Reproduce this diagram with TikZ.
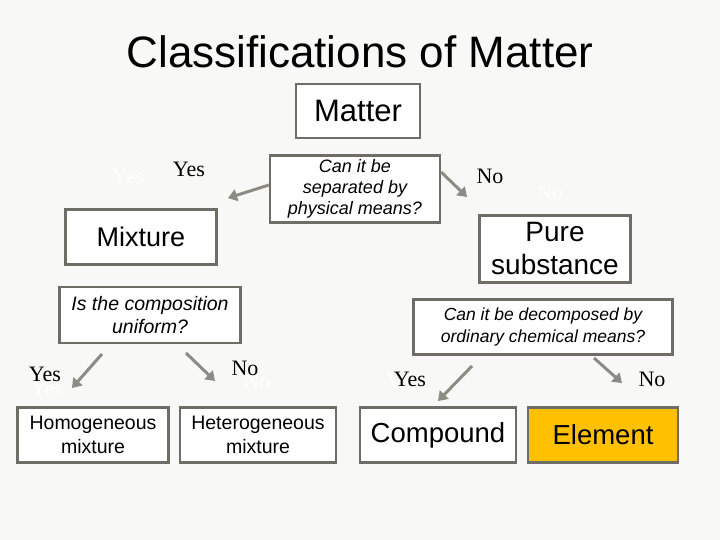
\documentclass[tikz,border=0pt]{standalone}
\usepackage{fontspec}
\setmainfont{Liberation Sans}
\newfontfamily\serifl{Liberation Serif}
\usetikzlibrary{arrows.meta}
\definecolor{bg}{HTML}{F8F8F6}
\definecolor{bord}{HTML}{6E6E66}
\definecolor{arr}{HTML}{8C8C84}
\definecolor{gold}{HTML}{FFC000}
\begin{document}
\begin{tikzpicture}[x=1pt,y=-1pt,
  box/.style={draw=bord,line width=2.2pt,fill=white,inner sep=0pt,align=center},
  arrw/.style={draw=arr,line width=3pt,-{Triangle[length=9pt,width=12pt]}},
  lab/.style={font=\serifl\fontsize{22}{24}\selectfont},
  ghost/.style={lab,text=white}]
\fill[bg] (0,0) rectangle (720,540);
\useasboundingbox (0,0) rectangle (720,540);
\node[font=\fontsize{44}{48}\selectfont] (title) at (360,52) {Classifications of Matter};
\node[box,minimum width=124pt,minimum height=54pt,font=\fontsize{31}{34}\selectfont] (matter) at (358,111) {Matter};
\node[box,minimum width=170pt,minimum height=67pt,font=\itshape\fontsize{18}{21}\selectfont] (sep) at (355,189) {Can it be\\separated by\\physical means?};
\node[box,minimum width=151pt,minimum height=55pt,font=\fontsize{27}{30}\selectfont] (mix) at (141,237) {Mixture};
\node[box,minimum width=151pt,minimum height=67pt,font=\fontsize{28}{33}\selectfont] (pure) at (555,249) {Pure\\substance};
\node[box,minimum width=181pt,minimum height=56pt,font=\itshape\fontsize{19.5}{23}\selectfont] (comp) at (150,315) {Is the composition\\uniform?};
\node[box,minimum width=259pt,minimum height=55pt,font=\itshape\fontsize{17.5}{22}\selectfont] (dec) at (543,327) {Can it be decomposed by\\ordinary chemical means?};
\node[box,minimum width=151pt,minimum height=55pt,font=\fontsize{19.5}{24}\selectfont] (homo) at (93,435) {Homogeneous\\mixture};
\node[box,minimum width=156pt,minimum height=55pt,font=\fontsize{19.5}{24}\selectfont] (hetero) at (258,435) {Heterogeneous\\mixture};
\node[box,minimum width=156pt,minimum height=55pt,font=\fontsize{27.5}{30}\selectfont] (cpd) at (438,435) {Compound};
\node[box,fill=gold,minimum width=150pt,minimum height=55pt,font=\fontsize{27.5}{30}\selectfont] (el) at (603,435) {Element};
% arrow ends
\coordinate (a1e) at (228,198);
\coordinate (a2e) at (467,197);
\coordinate (a3e) at (72,388);
\coordinate (a4e) at (215,381);
\coordinate (a5e) at (438,401);
\coordinate (a6e) at (622,383);
\draw[arrw] (sep.west |- 0,185) -- (a1e);
\draw[arrw] (sep.east |- 0,172) -- (a2e);
\draw[arrw] (102,354) -- (a3e);
\draw[arrw] (186,353) -- (a4e);
\draw[arrw] (472,366) -- (a5e);
\draw[arrw] (594,358) -- (a6e);
% labels
\node[ghost] (g1) at (128,176) {Yes};
\node[lab] (l1) at (189,169) {Yes};
\node[lab] (l2) at (490,176) {No};
\node[ghost] (g2) at (550,193) {No};
\node[ghost] (g3) at (47,388) {Yes};
\node[lab] (l3) at (45,374) {Yes};
\node[ghost] (g4) at (257,381) {No};
\node[lab] (l4) at (245,368) {No};
\node[ghost] (g5) at (393,379) {Y};
\node[lab] (l5) at (410,379) {Yes};
\node[lab] (l6) at (652,379) {No};
\end{tikzpicture}
\end{document}
